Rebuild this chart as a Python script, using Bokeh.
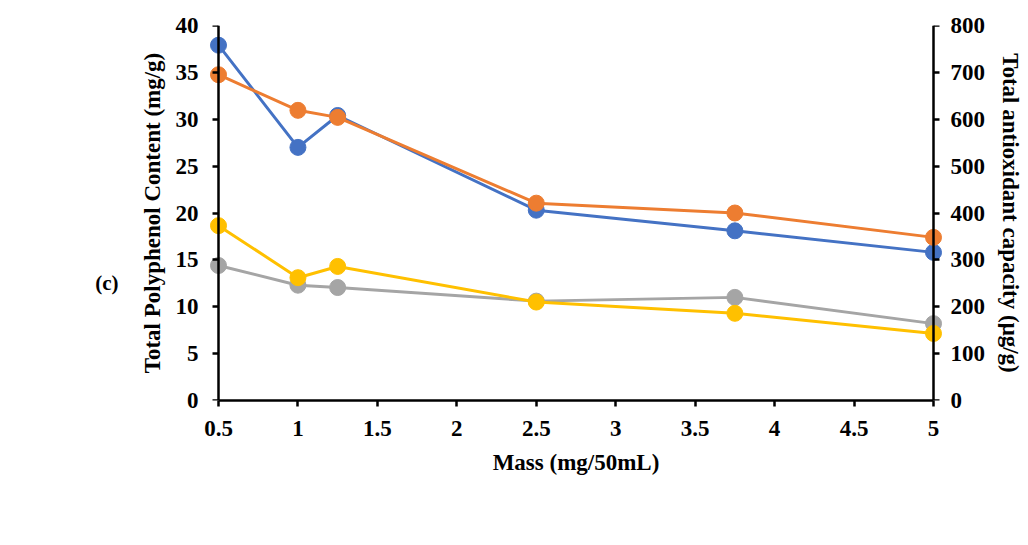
from bokeh.plotting import figure
from bokeh.models import (Range1d, LinearAxis, FixedTicker, Legend, LegendItem)
from bokeh.embed import file_html
from bokeh.resources import INLINE

# ---- data ----
mass = [0.5, 1, 1.25, 2.5, 3.75, 5]
tpc_leaves = [37.9, 27.0, 30.4, 20.3, 18.1, 15.8]      # mg/g (left axis)
tpc_fruits = [14.4, 12.3, 12.05, 10.6, 11.0, 8.2]      # mg/g (left axis)
tac_leaves = [695, 619, 604, 421, 400, 348]            # µg/g (right axis)
tac_fruits = [373, 262, 286, 210, 186, 143]            # µg/g (right axis)

x_ticks = [0.5, 1, 1.5, 2, 2.5, 3, 3.5, 4, 4.5, 5]
x_tick_labels = ["0.5", "1", "1.5", "2", "2.5", "3", "3.5", "4", "4.5", "5"]
left_ticks = [0, 5, 10, 15, 20, 25, 30, 35, 40]
right_ticks = [0, 100, 200, 300, 400, 500, 600, 700, 800]
panel_tag = "(c)"

FONT = "Liberation Serif"
FS = "23px"
BLUE, GRAY, ORANGE, YELLOW = "#4472C4", "#A5A5A5", "#ED7D31", "#FFC000"

X0, X1 = 0.5, 5.0
PAD = 10 * 4.5 / 715  # ~10px padding so markers at the axes are not clipped

p = figure(frame_width=735, frame_height=375, output_backend="svg", toolbar_location=None,
           x_range=Range1d(X0 - PAD, X1 + PAD), y_range=Range1d(0, 40),
           min_border_left=208, min_border_right=0, min_border_top=25, min_border_bottom=145)
p.extra_y_ranges = {"tac": Range1d(0, 800)}
p.outline_line_color = None
p.xgrid.visible = False
p.ygrid.visible = False
p.background_fill_color = "white"
p.border_fill_color = "white"


def style(ax):
    ax.axis_line_color = "black"
    ax.axis_line_width = 2.5
    ax.major_tick_line_color = "black"
    ax.major_tick_line_width = 2.5
    ax.major_tick_out = 6
    ax.major_tick_in = 0
    ax.minor_tick_line_color = None
    ax.major_label_text_font = FONT
    ax.major_label_text_font_style = "bold"
    ax.major_label_text_font_size = FS
    ax.major_label_text_color = "black"
    ax.axis_label_text_font = FONT
    ax.axis_label_text_font_style = "bold"
    ax.axis_label_text_font_size = FS
    ax.axis_label_text_color = "black"


def labels_only(ax):
    ax.axis_line_color = None
    ax.major_tick_line_color = None
    ax.major_tick_out = 0


# x axis
xa = p.xaxis[0]
style(xa)
xa.ticker = FixedTicker(ticks=x_ticks)
xa.major_label_overrides = {t: s for t, s in zip(x_ticks, x_tick_labels)}
xa.axis_label = "Mass (mg/50mL)"
xa.bounds = (X0, X1)
xa.major_label_standoff = 14
xa.axis_label_standoff = 11

# left: labels and title (in the side panel)
ya = p.yaxis[0]
style(ya)
labels_only(ya)
ya.ticker = FixedTicker(ticks=left_ticks)
ya.axis_label = "Total Polyphenol Content (mg/g)"
ya.major_label_standoff = 10
ya.axis_label_standoff = 8

# right: labels and title
ra = LinearAxis(y_range_name="tac")
style(ra)
labels_only(ra)
ra.ticker = FixedTicker(ticks=right_ticks)
ra.axis_label = "Total antioxidant capacity (μg/g)"
ra.major_label_standoff = 7
ra.axis_label_standoff = 10
p.add_layout(ra, "right")

# panel tag "(c)"
tag_axis = LinearAxis(ticker=FixedTicker(ticks=[12.5]),
                      major_label_overrides={12.5: panel_tag},
                      axis_line_color=None, major_tick_line_color=None, major_tick_out=0,
                      minor_tick_line_color=None, major_label_standoff=18,
                      major_label_text_font=FONT, major_label_text_font_style="bold",
                      major_label_text_font_size="21px", major_label_text_color="black")
p.add_layout(tag_axis, "left")

# axis lines + ticks drawn exactly at x = 0.5 and x = 5
left_line = LinearAxis(ticker=FixedTicker(ticks=left_ticks),
                       major_label_overrides={t: "" for t in left_ticks})
style(left_line)
left_line.fixed_location = X0
left_line.major_label_standoff = 0
p.add_layout(left_line, "left")

right_line = LinearAxis(y_range_name="tac", ticker=FixedTicker(ticks=right_ticks),
                        major_label_overrides={t: "" for t in right_ticks})
style(right_line)
right_line.fixed_location = X1
right_line.major_label_standoff = 0
p.add_layout(right_line, "right")

items = []
for name, ys, color, yr in [("TPC Leaves", tpc_leaves, BLUE, "default"),
                            ("TPC Fruits", tpc_fruits, GRAY, "default"),
                            ("TAC Leaves", tac_leaves, ORANGE, "tac"),
                            ("TAC Fruits", tac_fruits, YELLOW, "tac")]:
    l = p.line(mass, ys, line_color=color, line_width=3, y_range_name=yr)
    s = p.scatter(mass, ys, size=16, fill_color=color, line_color=color, y_range_name=yr)
    items.append(LegendItem(label=name, renderers=[l, s]))

legend = Legend(items=items, orientation="horizontal", location="center",
                label_text_font=FONT, label_text_font_style="bold",
                label_text_font_size="24px", label_text_color="black",
                glyph_width=56, glyph_height=30, label_standoff=3, spacing=30,
                border_line_color=None, background_fill_alpha=0,
                margin=18, padding=0)
p.add_layout(legend, "below")

open("out.html", "w").write(file_html(p, INLINE))
